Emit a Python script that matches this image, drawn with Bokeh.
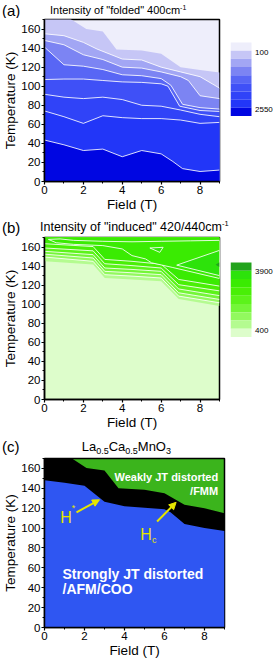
import html
from bokeh.plotting import figure
from bokeh.models import Range1d, Label, Arrow, NormalHead, SingleIntervalTicker, Div
from bokeh.layouts import column, row
from bokeh.embed import file_html
from bokeh.resources import INLINE

FONT = "Liberation Sans"

# ---------------- panel (a): boundaries of the filled contour levels (T in K vs field in T)
a_e0_f = [0, 1.3, 2.15, 3.0, 3.7, 5.0, 6.0, 7.0, 8.0, 9.0]
a_e0_t = [171, 171, 160, 157.5, 138.5, 137.5, 134, 120, 117, 114.5]
a_e1_f = [0, 1, 2, 2.7, 4, 5, 6, 7, 8, 9]
a_e1_t = [155, 153, 146, 139, 128.5, 127.5, 120, 115, 110, 98]
a_e2_f = [0, 1, 2, 3, 4, 5, 6, 7, 7.4, 8, 9]
a_e2_t = [148, 143.5, 133, 128, 120, 119, 115, 110, 106, 90, 87]
a_e3_f = [0, 1, 2, 3, 4, 5, 6, 6.5, 7.1, 8, 9]
a_e3_t = [141, 122.5, 121, 117.5, 112, 111, 108, 101, 81, 77.5, 76]
a_e4_f = [0, 1, 2, 3, 4, 5, 6, 6.35, 6.95, 8, 9]
a_e4_t = [107, 107.5, 107.5, 106, 104.5, 104, 102.5, 100, 79, 74.5, 73.5]
a_e5_f = [0, 1, 2, 3, 4, 5, 6, 7, 8, 9]
a_e5_t = [91.5, 88.5, 87, 88.5, 86, 80, 79, 75, 70.5, 68]
a_e6_f = [0, 1, 2, 3, 4, 5, 6, 7, 8, 9]
a_e6_t = [74, 68, 61, 69, 67, 66, 66, 64.5, 61, 62]
a_e7_f = [0, 1, 2, 3, 4, 5, 6, 6.6, 7.1, 8, 9]
a_e7_t = [43.5, 38.5, 32.5, 34, 26, 32.5, 29, 21, 13.5, 10.5, 12]
a_colors = ["#EEEEFB", "#C6C6F6", "#A2A6F4", "#7C84F3", "#5866F5",
            "#3F50F7", "#3043F8", "#2236F8", "#0006E2"]
a_cbar_labels = ["100", "2550"]
a_title = ('Intensity of "folded" 400cm', "-1")

# ---------------- panel (b): boundaries of the filled contour levels
b_f = [0, 2.5, 3.1, 4.5, 6.0, 6.9, 9]
b_e1_t = [145, 141.6, 127.5, 125.8, 124, 105.5, 98]
b_e2_t = [149.5, 145, 131, 129.5, 127.5, 108.5, 101.5]
b_e3_t = [152.5, 148.5, 134.5, 133, 131, 112, 105]
b_e4_t = [155.5, 152, 138, 136.5, 134.5, 116, 109]
b_e5_t = [159, 156, 142.5, 140.5, 138, 120.5, 114]
b_e6_t = [163.5, 160.5, 147, 145, 142, 126, 119]
b_r1_f = [0.2, 0.6, 1.5, 3.0, 4.0, 4.5, 5.2, 5.5, 6.6, 9.0, 9.0, 7.5, 6.0, 4.5, 3.0, 1.5, 0.8]
b_r1_t = [168, 164.5, 162.8, 161.5, 158, 151, 147.5, 143.5, 138.5, 127, 167, 166.5, 166, 165.5, 166, 167, 168.5]
b_r2_f = [6.8, 9, 9]
b_r2_t = [141, 156.5, 130]
b_r3_f = [5.42, 6.1, 5.93]
b_r3_t = [159, 159.7, 154.4]
b_r4_f = [8.8, 9, 9]
b_r4_t = [141.5, 144, 139]
b_colors = ["#22A31C", "#2DE30B", "#3AEB02", "#49EF06", "#5CF31A",
            "#74F638", "#92F95E", "#B4FB90", "#DDFDCB"]
b_cbar_labels = ["3900", "400"]
b_title = ('Intensity of "induced" 420/440cm', "-1")

# ---------------- panel (c): phase boundaries
c_up_f = [0, 1.3, 2.1, 3.0, 3.7, 5.0, 6.0, 7.0, 8.0, 9.0]
c_up_t = [171, 171, 160.5, 158, 140, 138.5, 135, 123.5, 120, 115]
c_lo_f = [0, 1, 2, 3, 4, 5, 6, 6.3, 7, 8, 9]
c_lo_t = [148, 145.5, 142.5, 126.5, 122, 120.5, 119, 116, 104, 100, 97]
c_arrow1 = [1.6, 115.9, 2.75, 128.5]
c_arrow2 = [5.63, 106.7, 6.58, 125.9]
c_title = [("La", ""), ("0.5", "sub"), ("Ca", ""), ("0.5", "sub"), ("MnO", ""), ("3", "sub")]
C_BLUE, C_GREEN, C_BLACK, C_YEL = "#2F56F2", "#3BB41C", "#000000", "#E6E600"

# ---------------- text width helper (Arial / Liberation Sans metrics)
W = {' ': 278, '"': 355, '(': 333, ')': 333, '-': 333, '.': 278, '/': 278, '*': 389,
     'H': 722, 'c': 500}
TOTAL_W = 272


def tw(s, size):
    return sum(W.get(ch, 556) for ch in s) * size / 1000.0


class Frame:
    """maps reference page pixels to a figure's data coordinates"""
    def __init__(self, left, right, top, bottom, x1=9.0, y1=170.0):
        self.l, self.r, self.t, self.b, self.x1, self.y1 = left, right, top, bottom, x1, y1

    def fx(self, px):
        return (px - self.l) / (self.r - self.l) * self.x1

    def fy(self, py):
        return (self.b - py) / (self.b - self.t) * self.y1


def label(p, x, y, text, size, color="black", bold=False, align="left", baseline="alphabetic"):
    p.add_layout(Label(x=x, y=y, text=text, text_font=FONT, text_font_size=f"{size}px",
                       text_color=color, text_font_style="bold" if bold else "normal",
                       text_align=align, text_baseline=baseline))


def rich(p, fr, px, py, pieces, color="black"):
    x = px
    for txt, size, dy in pieces:
        label(p, fr.fx(x), fr.fy(py + dy), txt, size, color)
        x += tw(txt, size)


def header(height, items):
    """items: (left px, baseline px, font px, inner html)"""
    parts = []
    for left, base, size, inner in items:
        top = base - 0.847 * size
        parts.append(f'<div style="position:absolute;left:{left}px;top:{top:.1f}px;'
                     f'font-size:{size}px;line-height:{size}px;white-space:nowrap;">{inner}</div>')
    text = (f'<div style="position:relative;width:{TOTAL_W}px;height:{height}px;overflow:hidden;'
            f"font-family:'Liberation Sans',Arial,sans-serif;color:#000;\">" + "".join(parts) + "</div>")
    return Div(text=text, width=TOTAL_W, height=height, margin=0)


def script(txt, size, shift):
    return (f'<span style="font-size:{size}px;line-height:{size}px;position:relative;top:{shift}px;">'
            f'{html.escape(txt)}</span>')


def blank(width, height):
    f = figure(width=width, height=height, x_range=Range1d(0, width), y_range=Range1d(0, height),
               toolbar_location=None, output_backend="svg", min_border=0,
               x_axis_type=None, y_axis_type=None)
    f.outline_line_color = None
    f.grid.visible = False
    return f


def make_panel(fw, fh, bl, br, bt, bb):
    p = figure(frame_width=fw, frame_height=fh, min_border_left=bl, min_border_right=br,
               min_border_top=bt, min_border_bottom=bb,
               x_range=Range1d(0, 9), y_range=Range1d(0, 170),
               toolbar_location=None, output_backend="svg")
    p.grid.visible = False
    p.outline_line_color = "black"
    p.outline_line_width = 1.5
    p.xaxis.ticker = SingleIntervalTicker(interval=2, num_minor_ticks=2)
    p.yaxis.ticker = SingleIntervalTicker(interval=20, num_minor_ticks=2)
    p.xaxis.axis_label = "Field (T)"
    p.yaxis.axis_label = "Temperature (K)"
    for ax in (p.xaxis[0], p.yaxis[0]):
        ax.axis_line_width = 1.5
        ax.major_tick_line_width = 1.2
        ax.minor_tick_line_width = 1
        ax.major_tick_in = 0
        ax.major_tick_out = 3
        ax.minor_tick_in = 0
        ax.minor_tick_out = 2
        ax.major_label_text_font = FONT
        ax.major_label_text_font_size = "11.5px"
        ax.major_label_text_color = "black"
        ax.major_label_standoff = 1
        ax.axis_label_text_font = FONT
        ax.axis_label_text_font_size = "13.5px"
        ax.axis_label_text_font_style = "normal"
        ax.axis_label_text_color = "black"
        ax.axis_label_standoff = 0
    return p


def make_cbar(page_top, height, colors, bar_top, bar_bot, labels, lab_pos):
    c = blank(TOTAL_W - 229, height)
    fr = Frame(229, TOTAL_W, page_top, page_top + height, x1=TOTAL_W - 229, y1=height)
    n = len(colors)
    step = (bar_bot - bar_top) / n
    tops = [fr.fy(bar_top + i * step) for i in range(n)]
    bots = [fr.fy(bar_top + (i + 1) * step) for i in range(n)]
    c.quad(left=fr.fx(229), right=fr.fx(250), top=tops, bottom=bots,
           fill_color=colors, line_color=None)
    for txt, py in zip(labels, lab_pos):
        label(c, fr.fx(253.5), fr.fy(py), txt, 8, baseline="middle")
    return c


# ================= panel (a) =================
ha = header(18, [(2, 16, 15, "(a)"),
                 (50, 14.3, 11, html.escape(a_title[0]) + script(a_title[1], 7, -4))])

pa = make_panel(175, 162, 43, 11, 1, 39)
pa.background_fill_color = a_colors[0]
a_edges = [(a_e0_f, a_e0_t), (a_e1_f, a_e1_t), (a_e2_f, a_e2_t), (a_e3_f, a_e3_t),
           (a_e4_f, a_e4_t), (a_e5_f, a_e5_t), (a_e6_f, a_e6_t), (a_e7_f, a_e7_t)]
for i, (ef, et) in enumerate(a_edges):
    pa.patch(list(ef) + [9, 0], list(et) + [0, 0], fill_color=a_colors[i + 1], line_color=None)
for ef, et in a_edges[1:]:
    pa.line(ef, et, line_color="white", line_width=1, line_alpha=0.85)
cba = make_cbar(18, 202, a_colors, 46.7, 138.3, a_cbar_labels, [59, 130.5])

# ================= panel (b) =================
hb = header(16, [(2, 13, 15, "(b)"),
                 (40, 11.3, 12.5, html.escape(b_title[0]) + script(b_title[1], 7.5, -4.5))])

pb = make_panel(175, 162, 43, 11, 1, 36)
pb.background_fill_color = b_colors[8]
b_edges = [b_e1_t, b_e2_t, b_e3_t, b_e4_t, b_e5_t, b_e6_t]
for i, et in enumerate(b_edges):
    pb.patch(list(b_f) + [9, 0], list(et) + [172, 172], fill_color=b_colors[7 - i], line_color=None)
for et in b_edges[1:]:
    pb.line(b_f, et, line_color="white", line_width=1, line_alpha=0.85)
pb.patch(b_r1_f, b_r1_t, fill_color=b_colors[2], line_color="white", line_width=1, line_alpha=0.85)
pb.patch(b_r2_f, b_r2_t, fill_color=b_colors[1], line_color="white", line_width=1, line_alpha=0.85)
pb.patch(b_r3_f, b_r3_t, fill_color=b_colors[1], line_color="white", line_width=1, line_alpha=0.85)
pb.patch(b_r4_f, b_r4_t, fill_color=b_colors[0], line_color=None)
cbb = make_cbar(236, 199, b_colors, 266.7, 358.3, b_cbar_labels, [277.5, 350])

# ================= panel (c) =================
c_html = "".join(script(t, 9, 3) if k == "sub" else html.escape(t) for t, k in c_title)
hc = header(22, [(2, 16.5, 15, "(c)"), (81.7, 15.7, 13, c_html)])

pc = make_panel(180, 169, 39, TOTAL_W - 219, 1, 33)
fc_ref = Frame(39.3, 219, 459.3, 630.3)   # reference pixel geometry of panel (c)
pc.background_fill_color = C_GREEN
pc.patch(list(c_up_f) + [9, 0], list(c_up_t) + [0, 0], fill_color=C_BLACK, line_color=None)
pc.patch(list(c_lo_f) + [9, 0], list(c_lo_t) + [0, 0], fill_color=C_BLUE, line_color=None)
for ar in (c_arrow1, c_arrow2):
    pc.add_layout(Arrow(end=NormalHead(size=7, fill_color=C_YEL, line_color=C_YEL),
                        x_start=ar[0], y_start=ar[1], x_end=ar[2], y_end=ar[3],
                        line_color=C_YEL, line_width=2))
rich(pc, fc_ref, 55, 519.3, [("H", 16, 0), ("*", 9, -10)], color=C_YEL)
rich(pc, fc_ref, 135, 536, [("H", 16, 0), ("c", 9, 6)], color=C_YEL)
label(pc, fc_ref.fx(212.7), fc_ref.fy(478), "Weakly JT distorted", 11, color="white", bold=True, align="right")
label(pc, fc_ref.fx(212.7), fc_ref.fy(491.7), "/FMM", 11, color="white", bold=True, align="right")
label(pc, fc_ref.fx(57.3), fc_ref.fy(575.7), "Strongly JT distorted", 14, color="white", bold=True)
label(pc, fc_ref.fx(57.3), fc_ref.fy(591.7), "/AFM/COO", 14, color="white", bold=True)

layout = column(ha, row(pa, cba), hb, row(pb, cbb), hc, pc)
open("out.html", "w").write(file_html(layout, INLINE))
